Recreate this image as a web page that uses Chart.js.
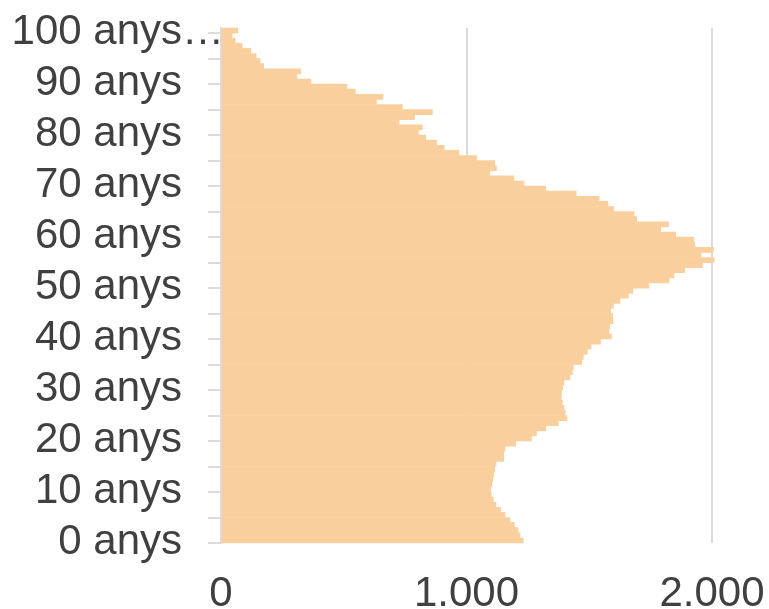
<!DOCTYPE html>
<html>
<head>
<meta charset="utf-8">
<script src="https://cdn.jsdelivr.net/npm/chart.js@4/dist/chart.umd.min.js"></script>
<style>
  html, body { margin: 0; padding: 0; background: #ffffff; }
  #wrap { width: 769px; height: 609px; }
</style>
</head>
<body>
<div id="wrap"><canvas id="pyramid"></canvas></div>
<script>
// ==========================================
// Població per edat (0 - 100 anys)
// ==========================================

// one category per year of age, 0 at the bottom
const ages = [];
for (let i = 0; i <= 100; i++) ages.push(i + " anys");

// labelled ticks, every 10 years
const tickLabels = ["0 anys", "10 anys", "20 anys", "30 anys", "40 anys",
    "50 anys", "60 anys", "70 anys", "80 anys", "90 anys", "100 anys…"];

const xTicks = [0, 1000, 2000];

// people per age, 0 .. 100
const people = [
    1231, 1218, 1210, 1195, 1177, 1157, 1139, 1120, 1109, 1101,
    1098, 1103, 1107, 1111, 1115, 1120, 1152, 1152, 1157, 1200,
    1265, 1285, 1323, 1374, 1409, 1402, 1397, 1390, 1386, 1387,
    1392, 1397, 1421, 1431, 1435, 1469, 1476, 1492, 1507, 1546,
    1591, 1580, 1584, 1596, 1595, 1587, 1598, 1625, 1659, 1678,
    1743, 1825, 1845, 1889, 1961, 2008, 1955, 2006, 1930, 1926,
    1852, 1791, 1823, 1693, 1682, 1600, 1576, 1540, 1447, 1322,
    1234, 1193, 1095, 1122, 1115, 1041, 969, 909, 878, 834,
    804, 820, 725, 788, 861, 739, 633, 660, 547, 513,
    366, 309, 325, 174, 159, 143, 121, 86, 58, 45,
    68
];

const textColor = "#404040";
const lineColor = "#dcdcdc";

function thousands(v){
    return String(v).replace(/\B(?=(\d{3})+(?!\d))/g, ".");
}

new Chart(

    document.getElementById("pyramid"),

    {
        type: "bar",

        data: {
            labels: ages,
            datasets: [{
                data: people,
                backgroundColor: "#facf9e",
                borderWidth: 0,
                barPercentage: 1,
                categoryPercentage: 1,
                clip: 6
            }]
        },

        options: {
            indexAxis: "y",
            responsive: true,
            maintainAspectRatio: false,
            animation: false,
            layout: {
                padding: { top: 28, right: 57, bottom: 0, left: 0 }
            },
            plugins: {
                legend: { display: false },
                tooltip: { enabled: false }
            },
            scales: {
                x: {
                    min: 0,
                    max: 2000,
                    afterBuildTicks: (scale) => {
                        scale.ticks = xTicks.map(v => ({ value: v }));
                    },
                    afterFit: (scale) => {
                        scale.height = 66;
                        scale.paddingLeft = 0;
                        scale.paddingRight = 0;
                    },
                    border: { display: false },
                    grid: {
                        color: (ctx) => ctx.index === 0 ? "transparent" : lineColor,
                        lineWidth: 2,
                        drawTicks: false
                    },
                    ticks: {
                        padding: 26,
                        color: textColor,
                        font: { family: "'Liberation Sans', Arial, sans-serif", size: 42 },
                        callback: (v) => thousands(v)
                    }
                },
                y: {
                    reverse: true,
                    afterFit: (scale) => {
                        scale.width = 221;
                        scale.paddingTop = 0;
                        scale.paddingBottom = 0;
                    },
                    border: { display: true, color: lineColor, width: 2 },
                    grid: {
                        offset: true,
                        drawOnChartArea: false,
                        drawTicks: true,
                        tickLength: 13,
                        lineWidth: 2,
                        color: (ctx) => (ctx.index !== undefined && ctx.index % 5 === 0) ? lineColor : "transparent"
                    },
                    ticks: {
                        autoSkip: false,
                        padding: -16,
                        labelOffset: 2,
                        color: textColor,
                        font: { family: "'Liberation Sans', Arial, sans-serif", size: 42 },
                        callback: (v, i) => {
                            if (i % 10 !== 0) return "";
                            const t = tickLabels[i / 10];
                            // keep labels aligned: the last one's ellipsis hangs past the others
                            return i === 100 ? t : t + "\u2003";
                        }
                    }
                }
            }
        }
    }

);
</script>
</body>
</html>
